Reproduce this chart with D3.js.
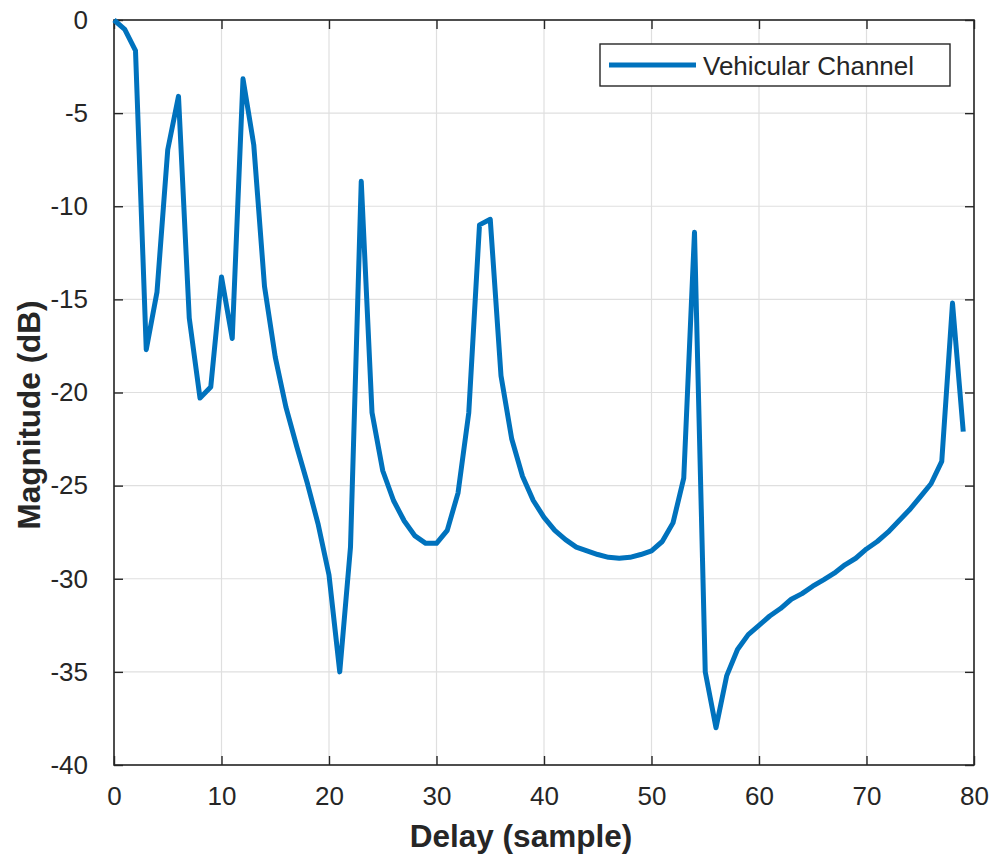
<!DOCTYPE html>
<html>
<head>
<meta charset="utf-8">
<script src="https://cdn.jsdelivr.net/npm/d3@7"></script>
<style>
  html, body { margin: 0; padding: 0; background: #fff; }
  svg { display: block; }
  text { font-family: "Liberation Sans", Arial, Helvetica, sans-serif; fill: #262626; }
</style>
</head>
<body>
<svg id="chart" width="990" height="855"></svg>
<script>
// ---- data ----
const delay = d3.range(0, 80);
const magnitude = [
  0, -0.5, -1.64, -17.7, -14.6, -6.96, -4.1, -16.0, -20.3, -19.7,
  -13.8, -17.1, -3.16, -6.7, -14.3, -18.1, -20.8, -22.9, -24.9, -27.1,
  -29.8, -35.0, -28.3, -8.66, -21.07, -24.2, -25.8, -26.9, -27.7, -28.1,
  -28.1, -27.4, -25.4, -21.1, -11.0, -10.7, -19.1, -22.5, -24.5, -25.8,
  -26.7, -27.4, -27.9, -28.3, -28.5, -28.7, -28.85, -28.9, -28.85, -28.7,
  -28.5, -28.0, -27.0, -24.6, -11.4, -35.0, -38.0, -35.2, -33.8, -33.0,
  -32.5, -32.0, -31.6, -31.1, -30.8, -30.4, -30.06, -29.7, -29.25, -28.9,
  -28.4, -28.0, -27.5, -26.9, -26.3, -25.6, -24.9, -23.7, -15.2, -22.1
];
const xTicks = [0, 10, 20, 30, 40, 50, 60, 70, 80];
const yTicks = [0, -5, -10, -15, -20, -25, -30, -35, -40];
const seriesName = "Vehicular Channel";
const xLabel = "Delay (sample)";
const yLabel = "Magnitude (dB)";

// ---- layout ----
const L = 114, R = 974, T = 20, B = 765;
const svg = d3.select("#chart");
const x = d3.scaleLinear().domain([0, 80]).range([L, R]);
const y = d3.scaleLinear().domain([-40, 0]).range([B, T]);
const fmt = d => String(d);

// grid
const grid = svg.append("g");
grid.selectAll("line.gx").data(xTicks).join("line")
  .attr("class", "gx")
  .attr("x1", d => x(d)).attr("x2", d => x(d)).attr("y1", T).attr("y2", B)
  .attr("stroke", "#dfdfdf").attr("stroke-width", 1.2);
grid.selectAll("line.gy").data(yTicks).join("line")
  .attr("class", "gy")
  .attr("x1", L).attr("x2", R).attr("y1", d => y(d)).attr("y2", d => y(d))
  .attr("stroke", "#dfdfdf").attr("stroke-width", 1.2);

// axes (ticks inward on all four sides)
const tickLen = 9;
const axisColor = "#262626";
function styleAxis(g) {
  g.select(".domain").remove();
  g.selectAll(".tick line").attr("stroke", axisColor).attr("stroke-width", 1.4);
  g.selectAll(".tick text").attr("font-size", 26).attr("fill", axisColor)
    .style("font-family", "'Liberation Sans', Arial, Helvetica, sans-serif");
}
svg.append("g").attr("transform", `translate(0,${B})`)
  .call(d3.axisBottom(x).tickValues(xTicks).tickSizeInner(-tickLen).tickSizeOuter(0).tickPadding(22).tickFormat(fmt))
  .call(styleAxis);
svg.append("g").attr("transform", `translate(0,${T})`)
  .call(d3.axisTop(x).tickValues(xTicks).tickSizeInner(-tickLen).tickSizeOuter(0).tickFormat(""))
  .call(styleAxis);
svg.append("g").attr("transform", `translate(${L},0)`)
  .call(d3.axisLeft(y).tickValues(yTicks).tickSizeInner(-tickLen).tickSizeOuter(0).tickPadding(26).tickFormat(fmt))
  .call(styleAxis);
svg.append("g").attr("transform", `translate(${R},0)`)
  .call(d3.axisRight(y).tickValues(yTicks).tickSizeInner(-tickLen).tickSizeOuter(0).tickFormat(""))
  .call(styleAxis);

// box
svg.append("rect").attr("x", L).attr("y", T).attr("width", R - L).attr("height", B - T)
  .attr("fill", "none").attr("stroke", axisColor).attr("stroke-width", 1.6);

// line
const line = d3.line().x((d, i) => x(delay[i])).y(d => y(d));
svg.append("path").datum(magnitude)
  .attr("d", line)
  .attr("fill", "none").attr("stroke", "#0072BD").attr("stroke-width", 5)
  .attr("stroke-linejoin", "round").attr("stroke-linecap", "butt");

// axis labels
svg.append("text").attr("x", 521).attr("y", 847).attr("text-anchor", "middle")
  .attr("font-size", 31.5).attr("font-weight", "bold").text(xLabel);
svg.append("text").attr("transform", "translate(40,415) rotate(-90)").attr("text-anchor", "middle")
  .attr("font-size", 31.5).attr("font-weight", "bold").text(yLabel);

// legend
const lg = svg.append("g");
lg.append("rect").attr("x", 600).attr("y", 44).attr("width", 350).attr("height", 42)
  .attr("fill", "#fff").attr("stroke", axisColor).attr("stroke-width", 1.4);
lg.append("line").attr("x1", 609).attr("x2", 696).attr("y1", 65).attr("y2", 65)
  .attr("stroke", "#0072BD").attr("stroke-width", 5);
lg.append("text").attr("x", 703).attr("y", 75).attr("font-size", 26).text(seriesName);
</script>
</body>
</html>
